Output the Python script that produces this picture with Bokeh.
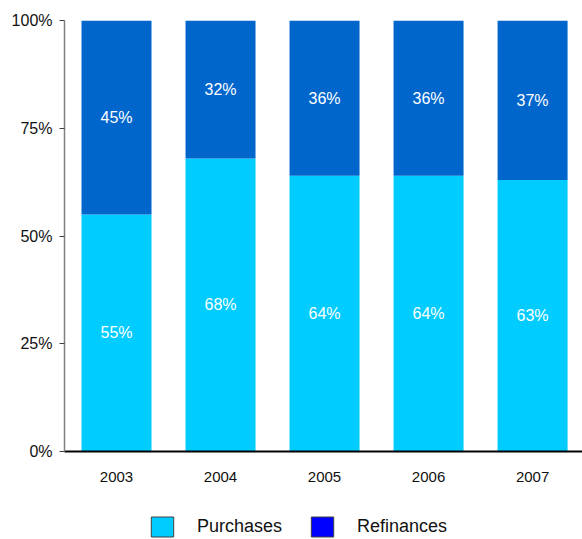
from bokeh.plotting import figure
from bokeh.layouts import column
from bokeh.models import (ColumnDataSource, Range1d, FixedTicker, PrintfTickFormatter,
                          Legend, LegendItem, LabelSet)
from bokeh.core.properties import value
from bokeh.embed import file_html
from bokeh.resources import INLINE

years = ["2003", "2004", "2005", "2006", "2007"]
purchases = [55, 68, 64, 64, 63]
refinances = [45, 32, 36, 36, 37]
y_ticks = [0, 25, 50, 75, 100]
legend_labels = ["Purchases", "Refinances"]

LIGHT = "#00CCFF"
DARK = "#0066CC"
LEGEND_DARK = "#0000FF"
FONT = "Liberation Sans"

xs = list(range(len(years)))
src = ColumnDataSource(dict(
    x=xs,
    p=purchases,
    r=refinances,
    top_all=[a + b for a, b in zip(purchases, refinances)],
    p_mid=[a / 2 for a in purchases],
    r_mid=[a + b / 2 for a, b in zip(purchases, refinances)],
    p_lab=[f"{v}%" for v in purchases],
    r_lab=[f"{v}%" for v in refinances],
))

p = figure(width=582, height=500, output_backend="svg", toolbar_location=None,
           x_range=Range1d(-0.5, 4.48), y_range=Range1d(0, 100),
           min_border_left=64, min_border_top=20, min_border_right=0, min_border_bottom=49)
p.outline_line_color = None
p.xgrid.visible = False
p.ygrid.visible = False

bw = 0.673
p.vbar(x="x", bottom=0, top="p", width=bw, fill_color=LIGHT, line_color=None, source=src)
p.vbar(x="x", bottom="p", top="top_all", width=bw, fill_color=DARK, line_color=None, source=src)

for col, lab in (("p_mid", "p_lab"), ("r_mid", "r_lab")):
    p.add_layout(LabelSet(x="x", y=col, text=lab, source=src, text_color="white",
                          text_font=value(FONT), text_font_size="16px",
                          text_align="center", text_baseline="middle"))

# axes
p.yaxis.ticker = FixedTicker(ticks=y_ticks)
p.yaxis.formatter = PrintfTickFormatter(format="%d%%")
p.yaxis.axis_line_color = "#808080"
p.yaxis.axis_line_width = 1.5
p.yaxis.major_tick_line_color = "#404040"
p.yaxis.major_tick_out = 5
p.yaxis.major_tick_in = 0
p.yaxis.minor_tick_line_color = None
p.yaxis.major_label_standoff = 7
p.yaxis.major_label_text_font = FONT
p.yaxis.major_label_text_font_size = "16px"
p.yaxis.major_label_text_color = "#111111"

p.xaxis.ticker = FixedTicker(ticks=xs)
p.xaxis.major_label_overrides = {i: y for i, y in zip(xs, years)}
p.xaxis.axis_line_color = "black"
p.xaxis.axis_line_width = 2
p.xaxis.major_tick_line_color = None
p.xaxis.major_tick_out = 0
p.xaxis.major_tick_in = 0
p.xaxis.minor_tick_line_color = None
p.xaxis.major_label_standoff = 20
p.xaxis.major_label_text_font = FONT
p.xaxis.major_label_text_font_size = "15px"
p.xaxis.major_label_text_color = "#111111"

# legend in a small strip figure below (separate swatch colours)
lf = figure(width=582, height=39, output_backend="svg", toolbar_location=None,
            x_range=Range1d(0, 1), y_range=Range1d(0, 1),
            x_axis_type=None, y_axis_type=None,
            min_border_left=0, min_border_top=0, min_border_right=0, min_border_bottom=0)
lf.outline_line_color = None
lf.xgrid.visible = False
lf.ygrid.visible = False
dummy = ColumnDataSource(dict(x=[-10], top=[0]))
r1 = lf.vbar(x="x", top="top", width=0.5, fill_color=LIGHT, line_color="#404040", line_width=1, source=dummy)
r2 = lf.vbar(x="x", top="top", width=0.5, fill_color=LEGEND_DARK, line_color="#404040", line_width=1, source=dummy)
legend = Legend(items=[LegendItem(label=legend_labels[0], renderers=[r1], index=0),
                       LegendItem(label=legend_labels[1], renderers=[r2], index=0)],
                orientation="horizontal", location=(84, 0),
                glyph_width=28, glyph_height=25, label_standoff=21, spacing=26,
                label_text_font=FONT, label_text_font_size="18px",
                label_text_color="#111111",
                border_line_color=None, background_fill_alpha=0,
                padding=0, margin=0)
lf.add_layout(legend)

layout = column(p, lf, spacing=0)
open("out.html", "w").write(file_html(layout, INLINE))
